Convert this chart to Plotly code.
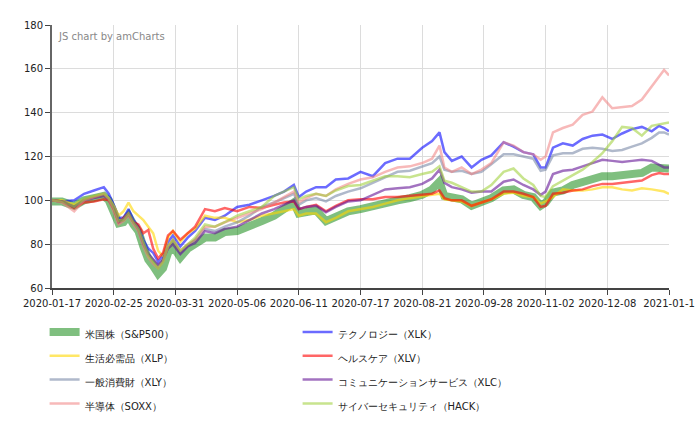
import plotly.graph_objects as go

# trading-day index counted from 2020-01-17
days = [0, 4, 9, 13, 17, 21, 23, 25, 27, 29,
        31, 33, 35, 37, 39, 41, 43, 45, 47, 49,
        52, 55, 58, 62, 66, 70, 75, 80, 85, 90,
        94, 98, 100, 103, 107, 111, 115, 120, 125, 130,
        135, 140, 145, 150, 154, 157, 159, 162, 166, 170,
        174, 178, 183, 187, 191, 195, 198, 200, 203, 207,
        211, 215, 219, 223, 227, 231, 235, 239, 243, 246,
        248, 250]

tick_days = [0, 25, 50, 75, 100, 125, 150, 175, 200, 225, 250]
tick_labels = ["2020-01-17", "2020-02-25", "2020-03-31", "2020-05-06", "2020-06-11",
               "2020-07-17", "2020-08-21", "2020-09-28", "2020-11-02", "2020-12-08", "2021-01-1"]

sp500 = [99.5, 99.5, 97.5, 100, 101, 102, 100, 95.5, 89.5, 90,
         93, 89, 86, 79, 73, 70, 66.5, 69, 76, 79,
         74, 78, 80, 83, 83, 85.5, 86, 88, 90.5, 93,
         96, 99, 94, 95, 95.5, 90.5, 92.5, 95, 96, 97.5,
         99, 100, 101, 102.5, 105, 108.5, 102, 101, 100.5, 97.5,
         99, 101, 104.5, 105, 102.5, 101.5, 97.5, 99, 103.5, 104.5,
         107, 108.5, 110, 111, 111, 111.5, 112, 112.5, 115, 115,
         115, 114.5]
xlk = [100, 99.5, 100, 103, 104.5, 106, 103, 98, 92, 92,
       96, 91, 88, 82, 78, 76, 72, 75, 81, 84,
       79, 83, 86, 92, 91, 93, 97, 98, 100, 102,
       104, 107, 101.5, 104, 106, 106, 109.5, 110, 113, 111,
       117, 119, 119, 124, 127, 131, 122, 118, 120, 115,
       118.5, 120.5, 126.5, 124.5, 122, 121, 115, 115, 124, 126,
       125, 128, 129.5, 130, 128, 130.5, 132.5, 133.5, 131.5, 134,
       133, 131.5]
xlp = [100, 100, 98, 100.5, 101.5, 102.5, 101, 97.5, 93, 95,
       99, 95, 93, 91, 88, 85, 77, 74.5, 83, 86,
       81, 85, 87, 93, 92, 92, 90, 91, 93, 94,
       95, 96, 93, 94, 94, 90, 92, 95, 96, 97,
       98.5, 100, 101, 102, 102.5, 103, 100.5, 100, 99.5, 97.5,
       99, 100.5, 103, 103.5, 102, 101.5, 98.5, 99.5, 101.5, 105,
       104.5, 104.5, 105, 106, 106, 105, 104.5, 105.5, 105, 104.5,
       104, 103]
xlv = [100, 99.5, 96.5, 99, 99.5, 100.5, 100, 96, 90, 92,
       94, 90, 89, 85, 86.5, 78, 73.5, 76, 84, 86,
       82, 85, 88, 96, 95, 96.5, 95, 97, 96.5, 98,
       99, 99.5, 96, 97, 98, 95, 97.5, 100, 100.5, 100.5,
       101.5, 101.5, 102, 102.5, 103, 104.5, 101, 100, 100, 97.5,
       99, 100.5, 104, 104, 103, 101.5, 97, 97.5, 103, 103.5,
       104.5, 105, 106.5, 107.5, 107.5, 108, 108.5, 109, 111.5, 112.5,
       112, 112]
xly = [100, 99.5, 97, 100.5, 101.5, 102.5, 101, 96.5, 90.5, 91.5,
       94, 90, 87, 81, 76, 73, 70, 73, 79, 82,
       76, 79, 82, 87, 86, 88, 90, 93, 97, 99,
       101, 103, 98, 100, 101, 99.5, 102, 104, 105.5, 108,
       110.5, 113, 113.5, 115.5, 117, 120, 114, 113, 113.5, 112,
       113, 116.5, 121, 121, 120, 119, 113.5, 114, 120.5, 121.5,
       121.5, 123.5, 124, 123.5, 122.5, 123, 124.5, 126, 128.5, 131,
       131, 130]
xlc = [100, 99.5, 97, 100, 101, 102, 100.5, 96, 90, 91,
       93.5, 90, 86.5, 80, 75.5, 73, 70.5, 73, 78, 80,
       75.5, 79, 80.5, 86, 85, 87, 88, 91, 94, 96,
       98, 100, 96, 97, 97.5, 94.5, 97, 99.5, 100, 102.5,
       105, 105.5, 106, 107.5, 110, 114, 108, 106, 105, 103.5,
       104, 104, 108.5, 109.5, 107, 105, 102.5, 104, 112, 113.5,
       114, 115.5, 117, 118.5, 118, 117.5, 118, 118.5, 118, 116,
       115, 115]
soxx = [100, 99, 95, 100, 101.5, 103, 100.5, 95, 89, 90.5,
        93, 89, 86, 79, 74, 71, 69, 72, 79, 82,
        77, 80, 82, 88, 88, 90, 92, 94, 96, 99,
        101.5, 104, 99, 101, 103, 102, 105, 107.5, 109.5, 110.5,
        113, 115, 115.5, 117, 119, 125, 115, 113, 115, 112,
        114, 117, 126.5, 125, 122, 121, 118.5, 120, 131, 133,
        134.5, 139, 140.5, 147, 142, 142.5, 143, 146, 152, 156,
        159.5, 157]
hack = [100, 99.5, 97, 100.5, 102, 103, 101, 96.5, 90.5, 91,
        94, 90, 87, 80.5, 75, 72, 69, 72, 79, 82,
        77, 80, 83, 89, 88, 90, 93, 95, 97, 102,
        104, 106, 100.5, 102, 103, 102, 104.5, 106.5, 107, 109,
        111, 111, 110.5, 112, 113, 115.5, 109, 108, 106, 104,
        104, 107, 113, 114.5, 110, 107, 102, 101.5, 106.5, 109,
        111.5, 114, 117.5, 121.5, 127, 133.5, 133, 129.5, 134, 134.5,
        135, 135.5]

series = [
    ("米国株（S&P500）", sp500, "rgba(0,128,0,0.5)", 8),
    ("テクノロジー（XLK）", xlk, "rgba(0,0,255,0.58)", 2.5),
    ("生活必需品（XLP）", xlp, "rgba(255,215,0,0.6)", 2.5),
    ("ヘルスケア（XLV）", xlv, "rgba(255,0,0,0.6)", 2.5),
    ("一般消費財（XLY）", xly, "rgba(112,128,160,0.55)", 2.5),
    ("コミュニケーションサービス（XLC）", xlc, "rgba(100,20,150,0.6)", 2.5),
    ("半導体（SOXX）", soxx, "rgba(240,128,128,0.55)", 2.5),
    ("サイバーセキュリティ（HACK）", hack, "rgba(154,205,50,0.55)", 2.5),
]

fig = go.Figure()
for name, vals, color, w in series:
    fig.add_trace(go.Scatter(
        x=days, y=vals, mode="lines",
        name='<span style="font-size:10px">' + name + '</span>',
        line=dict(color=color, width=w),
    ))

font = "DejaVu Sans, Verdana, sans-serif"
fig.update_layout(
    width=700, height=432, autosize=False,
    margin=dict(l=52, r=31, t=25, b=144, autoexpand=False),
    paper_bgcolor="white", plot_bgcolor="white",
    font=dict(family=font, size=10, color="#222"),
    showlegend=True,
    legend=dict(orientation="h", x=-0.012, y=-0.103, xanchor="left", yanchor="top",
                entrywidth=208, entrywidthmode="pixels",
                font=dict(family=font, size=16, color="#222"),
                bgcolor="rgba(0,0,0,0)"),
    xaxis=dict(range=[0, 250], tickmode="array", tickvals=tick_days, ticktext=tick_labels,
               showgrid=True, gridcolor="#dcdcdc", gridwidth=1,
               showline=True, linecolor="#444", linewidth=2,
               ticks="outside", ticklen=5, tickcolor="#444",
               tickfont=dict(family=font, size=10, color="#222"), zeroline=False),
    yaxis=dict(range=[60, 180], tickmode="array", tickvals=[60, 80, 100, 120, 140, 160, 180],
               showgrid=True, gridcolor="#dcdcdc", gridwidth=1,
               showline=True, linecolor="#666", linewidth=2,
               ticks="outside", ticklen=5, tickcolor="#444",
               tickfont=dict(family=font, size=10, color="#222"), zeroline=False),
    annotations=[dict(text="JS chart by amCharts", xref="paper", yref="paper",
                      x=0.006, y=0.985, xanchor="left", yanchor="top", showarrow=False,
                      font=dict(family=font, size=10, color="#888"))],
)

fig.write_html("out.html")
